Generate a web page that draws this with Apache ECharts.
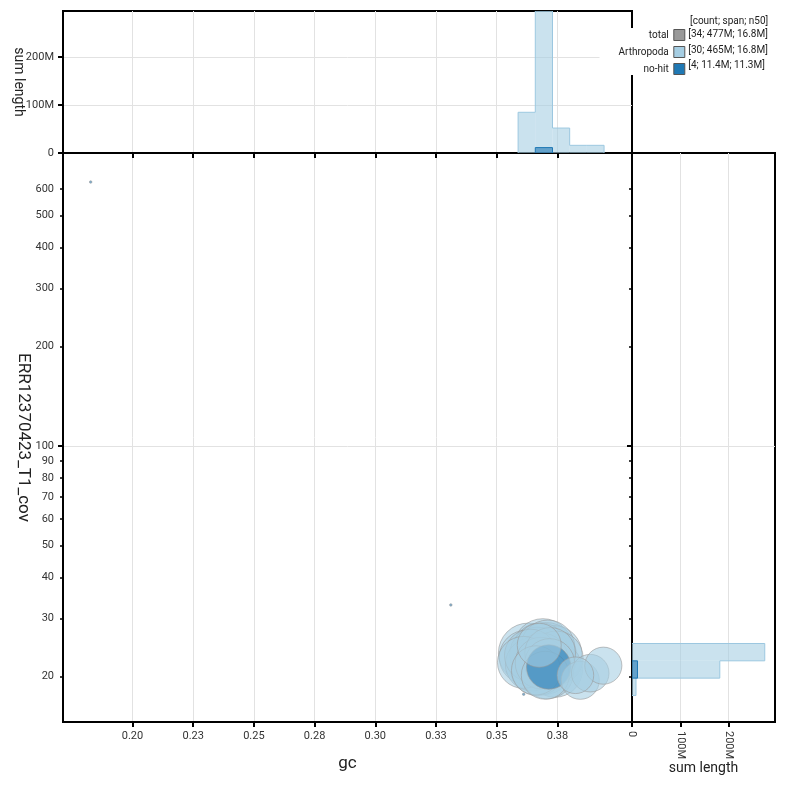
<!DOCTYPE html>
<html lang="en">
<head>
<meta charset="UTF-8">
<title>blob plot</title>
<script src="https://cdn.jsdelivr.net/npm/echarts@6/dist/echarts.min.js"></script>
<style>
  html, body { margin: 0; padding: 0; background: #fff; }
  #container { width: 786px; height: 786px; }
</style>
</head>
<body>
<div id="container"></div>
<script>
// contigs per taxon: gc, coverage, length (Mb)
var arthGc  = [0.3630, 0.3622, 0.3645, 0.3610, 0.3640,
               0.3690, 0.3705, 0.3672, 0.3715, 0.3680, 0.3698, 0.3665, 0.3710, 0.3685, 0.3720, 0.3675,
               0.3695, 0.3668, 0.3708, 0.3682, 0.3718, 0.3662, 0.3700,
               0.3740, 0.3735, 0.3745,
               0.3824, 0.3844, 0.3885, 0.3939];
var arthCov = [23.6, 22.9, 21.8, 22.1, 23.2,
               24.4, 23.8, 23.0, 22.9, 24.0, 22.6, 23.4, 24.6, 22.5, 23.6, 24.9,
               21.6, 21.2, 20.6, 22.0, 21.9, 20.9, 20.2,
               21.0, 23.5, 22.8,
               20.2, 19.5, 20.5, 21.6];
var arthLen = [20.5, 16.9, 16.2, 15.5, 15.8,
               20.0, 19.6, 18.8, 18.4, 17.7, 16.8, 16.8, 16.7, 16.4, 14.8, 11.1,
               19.2, 17.1, 16.0, 15.2, 14.4, 13.9, 13.2,
               17.4, 18.0, 16.6,
               7.7, 8.3, 8.1, 7.9];
var nohitGc  = [0.3714, 0.1828, 0.3311, 0.3611];
var nohitCov = [21.4, 631, 33.0, 17.7];
var nohitLen = [11.3, 0.033, 0.033, 0.034];

var gcTicks  = [0.2, 0.225, 0.25, 0.275, 0.3, 0.325, 0.35, 0.375];
var covTicks = [20, 30, 40, 50, 60, 70, 80, 90, 100, 200, 300, 400, 500, 600];
var lenTicks = [0, 100000000, 200000000];
var legendNames = ['total', 'Arthropoda', 'no-hit'];
var legendStats = ['[34; 477M; 16.8M]', '[30; 465M; 16.8M]', '[4; 11.4M; 11.3M]'];

var gcMin = 0.1714, gcMax = 0.4057;
var covMin = 14.58, covMax = 772.6;
var gcBinStart = 0.3588, gcBinWidth = 0.00708;
var covBinStart = Math.log10(19.8), covBinWidth = 0.0525;

// sum lengths into bins, keep neighbour heights for the outline
function makeBins(vals, lens, start, width, toEdge) {
    var sums = {};
    vals.forEach(function (v, i) {
        var k = Math.floor((v - start) / width);
        sums[k] = (sums[k] || 0) + lens[i] * 1e6;
    });
    var keys = Object.keys(sums).map(Number);
    var lo = Math.min.apply(null, keys), hi = Math.max.apply(null, keys);
    var out = [];
    for (var k = lo; k <= hi; k++) {
        out.push([toEdge(start + k * width), toEdge(start + (k + 1) * width), sums[k] || 0]);
    }
    return out.map(function (b, i) {
        return [b[0], b[1], b[2], i ? out[i - 1][2] : 0, i < out.length - 1 ? out[i + 1][2] : 0];
    });
}
var same = function (v) { return v; };
var pow10 = function (v) { return Math.pow(10, v); };
var arthGcBins  = makeBins(arthGc, arthLen, gcBinStart, gcBinWidth, same);
var nohitGcBins = makeBins(nohitGc, nohitLen, gcBinStart, gcBinWidth, same);
var arthCovBins  = makeBins(arthCov.map(Math.log10), arthLen, covBinStart, covBinWidth, pow10);
var nohitCovBins = makeBins(nohitCov.map(Math.log10), nohitLen, covBinStart, covBinWidth, pow10);
var histMax = Math.max.apply(null, arthGcBins.concat(arthCovBins).map(function (b) { return b[2]; }));

var arthPts = arthGc.map(function (g, i) { return [g, arthCov[i], arthLen[i]]; })
    .sort(function (a, b) { return b[2] - a[2]; });
var nohitPts = nohitGc.map(function (g, i) { return [g, nohitCov[i], nohitLen[i]]; })
    .sort(function (a, b) { return b[2] - a[2]; });
var bigNohit = nohitPts[0][2];

function circleSize(v) { return Math.max(2.5, 13.2 * Math.sqrt(v[2])); }

// bins thinner than a pixel would only leave a stray line on the axis
function topHist(fill, stroke) {
    return function (params, api) {
        var x0 = api.value(0), x1 = api.value(1), h = api.value(2);
        var a = api.coord([x0, 0]), b = api.coord([x1, h]);
        if (a[1] - b[1] < 1) return null;
        var pts = [api.coord([x0, api.value(3)]), api.coord([x0, h]), b];
        if (!api.value(4)) pts.push(api.coord([x1, 0]));
        return { type: 'group', children: [
            { type: 'rect', shape: { x: a[0], y: b[1], width: b[0] - a[0], height: a[1] - b[1] }, style: { fill: fill } },
            { type: 'polyline', shape: { points: pts }, style: { fill: null, stroke: stroke, lineWidth: 1 } }
        ]};
    };
}
function sideHist(fill, stroke) {
    return function (params, api) {
        var c0 = api.value(0), c1 = api.value(1), h = api.value(2);
        var a = api.coord([0, c0]), b = api.coord([h, c1]);
        if (b[0] - a[0] < 1) return null;
        var pts = [api.coord([api.value(3), c0]), api.coord([h, c0]), b];
        if (!api.value(4)) pts.push(api.coord([0, c1]));
        return { type: 'group', children: [
            { type: 'rect', shape: { x: a[0], y: b[1], width: b[0] - a[0], height: a[1] - b[1] }, style: { fill: fill } },
            { type: 'polyline', shape: { points: pts }, style: { fill: null, stroke: stroke, lineWidth: 1 } }
        ]};
    };
}

function lenLabel(v) { return v === 0 ? '0' : (v / 1e6) + 'M'; }

var tickLabel = { fontSize: 11, color: '#333', fontFamily: 'Roboto' };
var blackLine = { show: true, onZero: false, lineStyle: { color: '#000', width: 2 } };
var grey = { show: true, lineStyle: { color: '#e2e2e2', width: 1 } };

var dom = document.getElementById('container');
var myChart = echarts.init(dom, null, { renderer: 'canvas' });

var option = {
    animation: false,
    textStyle: { fontFamily: 'Roboto' },
    title: {
        text: '[count; span; n50]', left: 690, top: 16, padding: 0,
        textStyle: { fontSize: 10, fontWeight: 'normal', color: '#222', fontFamily: 'Roboto' }
    },
    legend: [
        {
            data: legendNames, orient: 'vertical', align: 'right', icon: 'rect',
            right: 98.7, top: 28, padding: [1, 2, 0, 19],
            itemWidth: 11, itemHeight: 11, itemGap: 5, selectedMode: false,
            backgroundColor: '#fff', z: 5,
            textStyle: { fontSize: 10, color: '#222', fontFamily: 'Roboto' },
            itemStyle: { borderColor: '#555', borderWidth: 1, opacity: 1 }
        },
        {
            data: legendNames, orient: 'vertical', icon: 'none',
            left: 683.3, top: 28, padding: [1, 0, 0, 0],
            itemWidth: 0, itemHeight: 11, itemGap: 5, selectedMode: false, z: 4,
            formatter: function (name) { return legendStats[legendNames.indexOf(name)]; },
            textStyle: { fontSize: 10, color: '#222', fontFamily: 'Roboto' }
        }
    ],
    grid: [
        { left: 63, top: 153, width: 569, height: 569, show: true, borderColor: '#000', borderWidth: 2, outerBoundsMode: 'none' },
        { left: 63, top: 11, width: 569, height: 142, show: true, borderColor: '#000', borderWidth: 2, outerBoundsMode: 'none' },
        { left: 632, top: 153, width: 143, height: 569, show: true, borderColor: '#000', borderWidth: 2, outerBoundsMode: 'none' }
    ],
    xAxis: [
        {
            gridIndex: 0, type: 'value', min: gcMin, max: gcMax, axisLine: blackLine,
            axisTick: { customValues: gcTicks, length: 5, lineStyle: { color: '#000', width: 2 } },
            axisLabel: Object.assign({ customValues: gcTicks, margin: 9, formatter: function (v) { return v.toFixed(2); } }, tickLabel),
            splitLine: grey,
            name: 'gc', nameLocation: 'middle', nameGap: 33, nameMoveOverlap: false,
            nameTextStyle: { fontSize: 17, color: '#222', fontFamily: 'Roboto' }
        },
        {
            gridIndex: 1, type: 'value', min: gcMin, max: gcMax, axisLine: blackLine,
            axisTick: { customValues: gcTicks, length: 5, lineStyle: { color: '#000', width: 2 } },
            axisLabel: { show: false, customValues: gcTicks },
            splitLine: grey
        },
        {
            gridIndex: 2, type: 'value', min: 0, max: histMax, axisLine: blackLine,
            axisTick: { customValues: lenTicks, length: 5, lineStyle: { color: '#000', width: 2 } },
            axisLabel: Object.assign({ customValues: lenTicks, rotate: -90, margin: 9, formatter: lenLabel }, tickLabel),
            splitLine: grey,
            name: 'sum length', nameLocation: 'middle', nameGap: 39, nameMoveOverlap: false,
            nameTextStyle: { fontSize: 14, color: '#222', fontFamily: 'Roboto' }
        }
    ],
    yAxis: [
        {
            gridIndex: 0, type: 'log', min: covMin, max: covMax, axisLine: blackLine,
            axisTick: { customValues: covTicks, length: 3, lineStyle: { color: '#000', width: 1.5 } },
            axisLabel: Object.assign({ customValues: covTicks, margin: 9, formatter: function (v) { return String(v); } }, tickLabel),
            splitLine: { show: false },
            name: 'ERR12370423_T1_cov', nameLocation: 'middle', nameGap: 31, nameRotate: -90, nameMoveOverlap: false,
            nameTextStyle: { fontSize: 17, color: '#222', fontFamily: 'Roboto' }
        },
        {
            gridIndex: 0, type: 'log', min: covMin, max: covMax, position: 'left',
            axisLine: { show: false },
            axisTick: { customValues: [100], length: 5, lineStyle: { color: '#000', width: 2 } },
            axisLabel: { show: false, customValues: [100] },
            splitLine: grey
        },
        {
            gridIndex: 1, type: 'value', min: 0, max: histMax, axisLine: blackLine,
            axisTick: { customValues: lenTicks, length: 5, lineStyle: { color: '#000', width: 2 } },
            axisLabel: Object.assign({ customValues: lenTicks, margin: 9, formatter: lenLabel }, tickLabel),
            splitLine: grey,
            name: 'sum length', nameLocation: 'middle', nameGap: 38, nameRotate: -90, nameMoveOverlap: false,
            nameTextStyle: { fontSize: 14, color: '#222', fontFamily: 'Roboto' }
        },
        {
            gridIndex: 2, type: 'log', min: covMin, max: covMax, axisLine: blackLine,
            axisTick: { customValues: covTicks, length: 3, lineStyle: { color: '#000', width: 1.5 } },
            axisLabel: { show: false, customValues: covTicks },
            splitLine: { show: false }
        },
        {
            gridIndex: 2, type: 'log', min: covMin, max: covMax, position: 'left',
            axisLine: { show: false },
            axisTick: { customValues: [100], length: 5, lineStyle: { color: '#000', width: 2 } },
            axisLabel: { show: false, customValues: [100] },
            splitLine: grey
        }
    ],
    series: [
        { name: 'total', type: 'scatter', xAxisIndex: 0, yAxisIndex: 0, data: [], itemStyle: { color: '#999999' } },
        {
            name: 'Arthropoda', type: 'scatter', xAxisIndex: 0, yAxisIndex: 0,
            data: arthPts.filter(function (p) { return p[2] >= bigNohit; }),
            symbolSize: circleSize, emphasis: { disabled: true },
            itemStyle: { color: '#a6cee3', opacity: 0.6, borderColor: '#999', borderWidth: 1 }
        },
        {
            name: 'no-hit', type: 'scatter', xAxisIndex: 0, yAxisIndex: 0,
            data: nohitPts, symbolSize: circleSize, emphasis: { disabled: true },
            itemStyle: { color: '#1f78b4', opacity: 0.6, borderColor: '#999', borderWidth: 1 }
        },
        {
            name: 'Arthropoda', type: 'scatter', xAxisIndex: 0, yAxisIndex: 0,
            data: arthPts.filter(function (p) { return p[2] < bigNohit; }),
            symbolSize: circleSize, emphasis: { disabled: true },
            itemStyle: { color: '#a6cee3', opacity: 0.6, borderColor: '#999', borderWidth: 1 }
        },
        { type: 'custom', xAxisIndex: 1, yAxisIndex: 2, data: arthGcBins, clip: true,
          renderItem: topHist('rgba(166,206,227,0.6)', '#9cc8e0') },
        { type: 'custom', xAxisIndex: 1, yAxisIndex: 2, data: nohitGcBins, clip: true,
          renderItem: topHist('rgba(31,120,180,0.6)', '#1f78b4') },
        { type: 'custom', xAxisIndex: 2, yAxisIndex: 3, data: arthCovBins, clip: true,
          renderItem: sideHist('rgba(166,206,227,0.6)', '#9cc8e0') },
        { type: 'custom', xAxisIndex: 2, yAxisIndex: 3, data: nohitCovBins, clip: true,
          renderItem: sideHist('rgba(31,120,180,0.6)', '#1f78b4') }
    ]
};

myChart.setOption(option);
window.addEventListener('resize', myChart.resize);
</script>
</body>
</html>
